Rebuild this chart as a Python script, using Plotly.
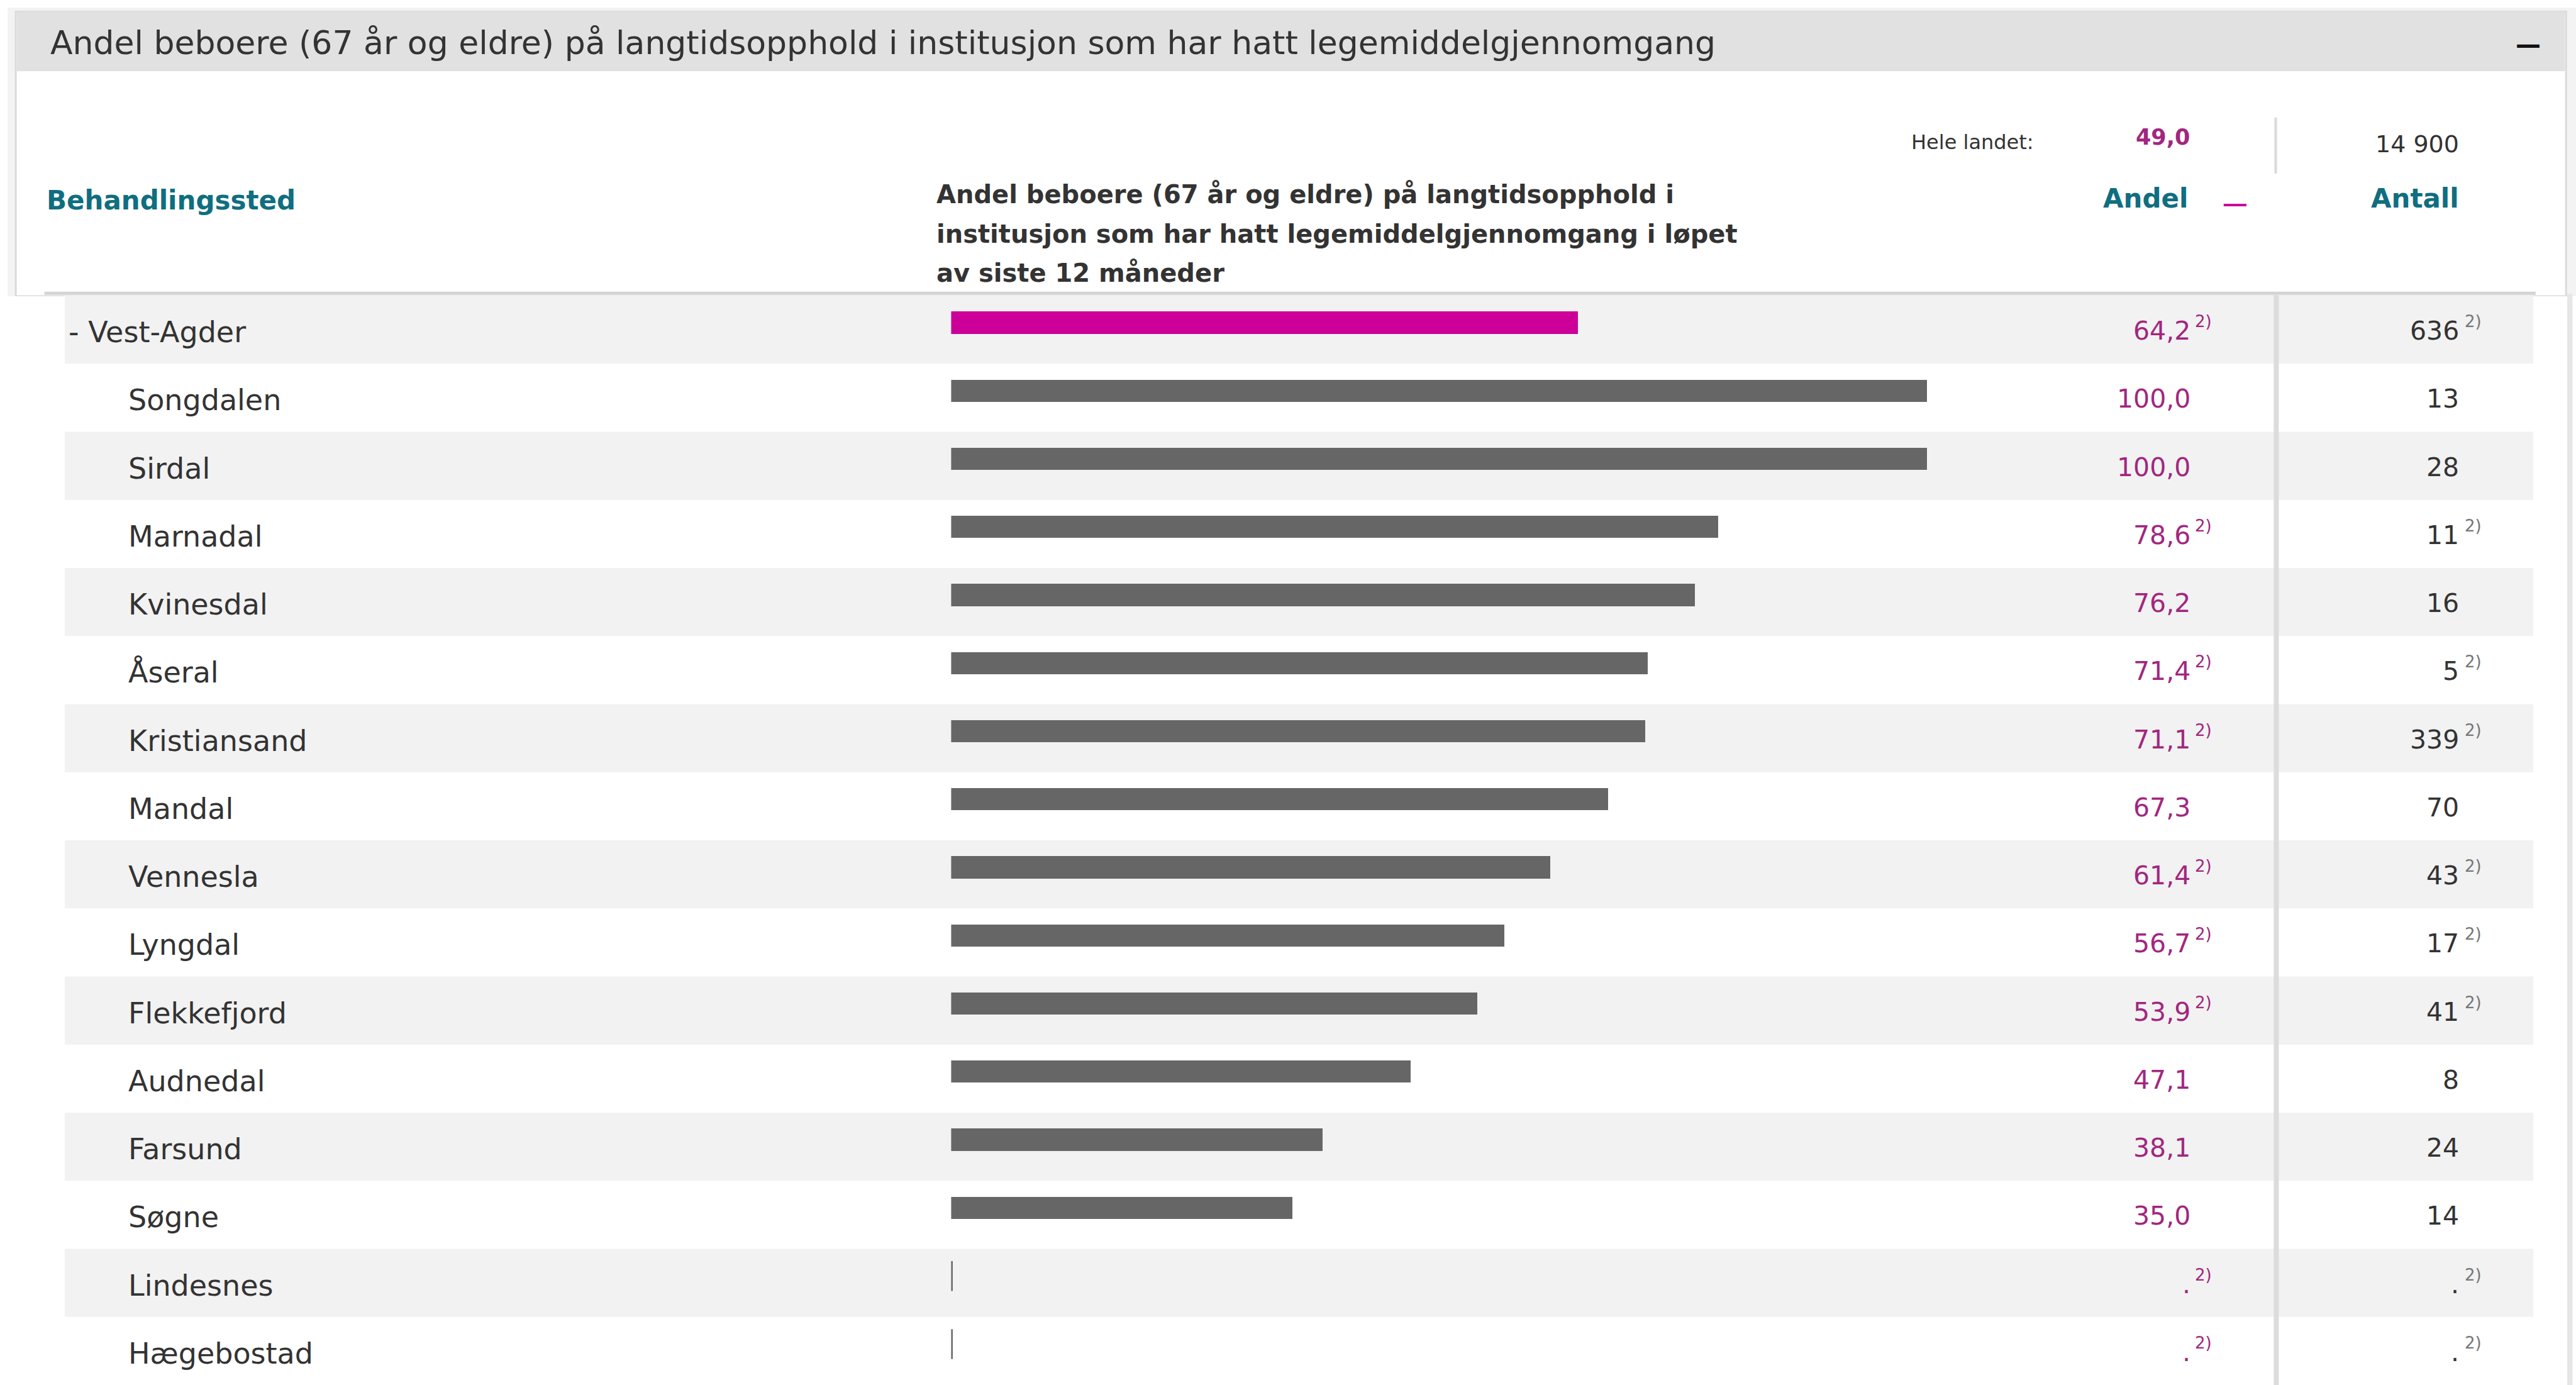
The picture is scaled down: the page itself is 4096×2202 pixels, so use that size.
import plotly.graph_objects as go

# ---- data -------------------------------------------------------------
places = ["- Vest-Agder", "Songdalen", "Sirdal", "Marnadal", "Kvinesdal", "Åseral",
          "Kristiansand", "Mandal", "Vennesla", "Lyngdal", "Flekkefjord", "Audnedal",
          "Farsund", "Søgne", "Lindesnes", "Hægebostad"]
level = [0, 1, 1, 1, 1, 1, 1, 1, 1, 1, 1, 1, 1, 1, 1, 1]
andel = [64.2, 100.0, 100.0, 78.6, 76.2, 71.4, 71.1, 67.3, 61.4, 56.7, 53.9, 47.1,
         38.1, 35.0, None, None]
antall = [636, 13, 28, 11, 16, 5, 339, 70, 43, 17, 41, 8, 24, 14, None, None]
note_2 = [True, False, False, True, False, True, True, False, True, True, True, False,
          False, False, True, True]
national_andel = 49.0
national_antall = 14900

title_text = ("Andel beboere (67 år og eldre) på langtidsopphold i institusjon "
              "som har hatt legemiddelgjennomgang")
column_title = ["Andel beboere (67 år og eldre) på langtidsopphold i",
                "institusjon som har hatt legemiddelgjennomgang i løpet",
                "av siste 12 måneder"]

# ---- layout helpers ---------------------------------------------------
W, H = 4096, 2202
K = 0.929                      # design units -> window pixels
FONT = "DejaVu Sans"
DARK = "#333333"
TEAL = "#0f6e80"
MAGENTA_TXT = "#a2267f"
MAGENTA_BAR = "#cc0099"
GREY_BAR = "#666666"
BAND = "#f2f2f2"


def fx(x):
    return x * K / W


def fy(y):
    return 1 - y * K / H


def fmt_andel(v):
    return "." if v is None else f"{v:.1f}".replace(".", ",")


def fmt_antall(v):
    return "." if v is None else f"{v:,}".replace(",", " ")


TABLE_TOP = 506
n = len(places)
rows = list(range(n))

fig = go.Figure()

# bars
bar_colors = [MAGENTA_BAR if lv == 0 else GREY_BAR for lv in level]
fig.add_trace(go.Bar(
    x=[v if v is not None else 0 for v in andel], y=rows, orientation="h",
    marker=dict(color=bar_colors, line=dict(width=0)),
    width=0.325, offset=-0.265, hoverinfo="skip", showlegend=False,
))
# small tick at the baseline where no value is published
miss = [i for i, v in enumerate(andel) if v is None]
fig.add_trace(go.Scatter(
    x=[0] * len(miss), y=[i - 0.1 for i in miss], mode="markers",
    marker=dict(symbol="line-ns", size=34, line=dict(width=5, color=GREY_BAR)),
    hoverinfo="skip", showlegend=False,
))

shapes = []
# panel frame and header band
shapes.append(dict(type="rect", xref="paper", yref="paper", x0=fx(13), x1=1.0,
                   y0=fy(507), y1=fy(13), fillcolor="#f3f3f3", line=dict(width=0), layer="below"))
shapes.append(dict(type="rect", xref="paper", yref="paper", x0=fx(27), x1=fx(4392),
                   y0=fy(507), y1=fy(20), fillcolor="#ffffff",
                   line=dict(width=3, color="#dadada"), layer="below"))
shapes.append(dict(type="rect", xref="paper", yref="paper", x0=fx(29), x1=fx(4390),
                   y0=fy(122), y1=fy(20), fillcolor="#e1e1e1", line=dict(width=0), layer="below"))
shapes.append(dict(type="rect", xref="paper", yref="paper", x0=0, x1=1.0,
                   y0=0, y1=fy(507), fillcolor="#ffffff", line=dict(width=0), layer="below"))
shapes.append(dict(type="rect", xref="paper", yref="paper", x0=fx(4394), x1=fx(4403),
                   y0=0, y1=fy(503), fillcolor="#e6e6e6", line=dict(width=0), layer="below"))

# alternating row bands
for i in rows:
    if i % 2 == 0:
        shapes.append(dict(type="rect", xref="paper", yref="y", x0=fx(111), x1=fx(4336),
                           y0=i - 0.5, y1=i + 0.5, fillcolor=BAND, line=dict(width=0),
                           layer="below"))

# header rule, column divider, national divider, sort marker
shapes.append(dict(type="line", xref="paper", yref="paper", x0=fx(76), x1=fx(4340),
                   y0=fy(502), y1=fy(502), line=dict(color="#d4d4d4", width=5)))
shapes.append(dict(type="line", xref="paper", yref="paper", x0=fx(3896), x1=fx(3896),
                   y0=0, y1=fy(505), line=dict(color="#dcdcdc", width=8)))
shapes.append(dict(type="line", xref="paper", yref="paper", x0=fx(3895), x1=fx(3895),
                   y0=fy(297), y1=fy(201), line=dict(color="#d9d9d9", width=4)))
shapes.append(dict(type="line", xref="paper", yref="paper", x0=fx(3806), x1=fx(3845),
                   y0=fy(351), y1=fy(351), line=dict(color=MAGENTA_BAR, width=4)))

ann = []


def txt(text, x, y, size, color=DARK, anchor="left", bold=False, yref="paper", yshift=0):
    ann.append(dict(text=text, x=x, y=y, xref="paper", yref=yref, xanchor=anchor,
                    yanchor="middle", showarrow=False, yshift=yshift,
                    font=dict(family=FONT, size=size, color=color,
                              weight="bold" if bold else "normal")))


# header texts
txt(title_text, fx(84), fy(73), 52)
txt("—", fx(4327), fy(76), 40, color="#111111", anchor="center", bold=True)
txt("Hele landet:", fx(3483), fy(243), 32, anchor="right")
txt(fmt_andel(national_andel), fx(3750), fy(235), 35, color=MAGENTA_TXT, anchor="right", bold=True)
txt(fmt_antall(national_antall), fx(4211), fy(246), 38, anchor="right")
txt("Behandlingssted", fx(78), fy(343), 42, color=TEAL, bold=True)
for line, yy in zip(column_title, [333, 400, 467]):
    txt(line, fx(1601), fy(yy), 40, bold=True)
txt("Andel", fx(3747), fy(340), 42, color=TEAL, anchor="right", bold=True)
txt("Antall", fx(4211), fy(340), 42, color=TEAL, anchor="right", bold=True)

# table rows
for i in rows:
    txt(places[i], fx(115 if level[i] == 0 else 217), i, 46, yref="y", yshift=-4)
    txt(fmt_andel(andel[i]), fx(3751), i, 41, color=MAGENTA_TXT, anchor="right",
        yref="y", yshift=-2)
    txt(fmt_antall(antall[i]), fx(4211), i, 41, anchor="right", yref="y", yshift=-2)
    if note_2[i]:
        txt("2)", fx(3755), i, 26, color=MAGENTA_TXT, yref="y", yshift=13)
        txt("2)", fx(4216), i, 26, color="#777777", yref="y", yshift=13)

fig.update_layout(
    width=W, height=H, margin=dict(l=0, r=0, t=0, b=0, pad=0),
    paper_bgcolor="#ffffff", plot_bgcolor="rgba(0,0,0,0)",
    xaxis=dict(domain=[fx(1628), fx(1628 + 1671)], range=[0, 100], visible=False,
               fixedrange=True),
    yaxis=dict(domain=[0, fy(TABLE_TOP)], range=[n - 0.5, -0.5], visible=False,
               fixedrange=True),
    shapes=shapes, annotations=ann, bargap=0, showlegend=False,
)

fig.write_html("out.html")
